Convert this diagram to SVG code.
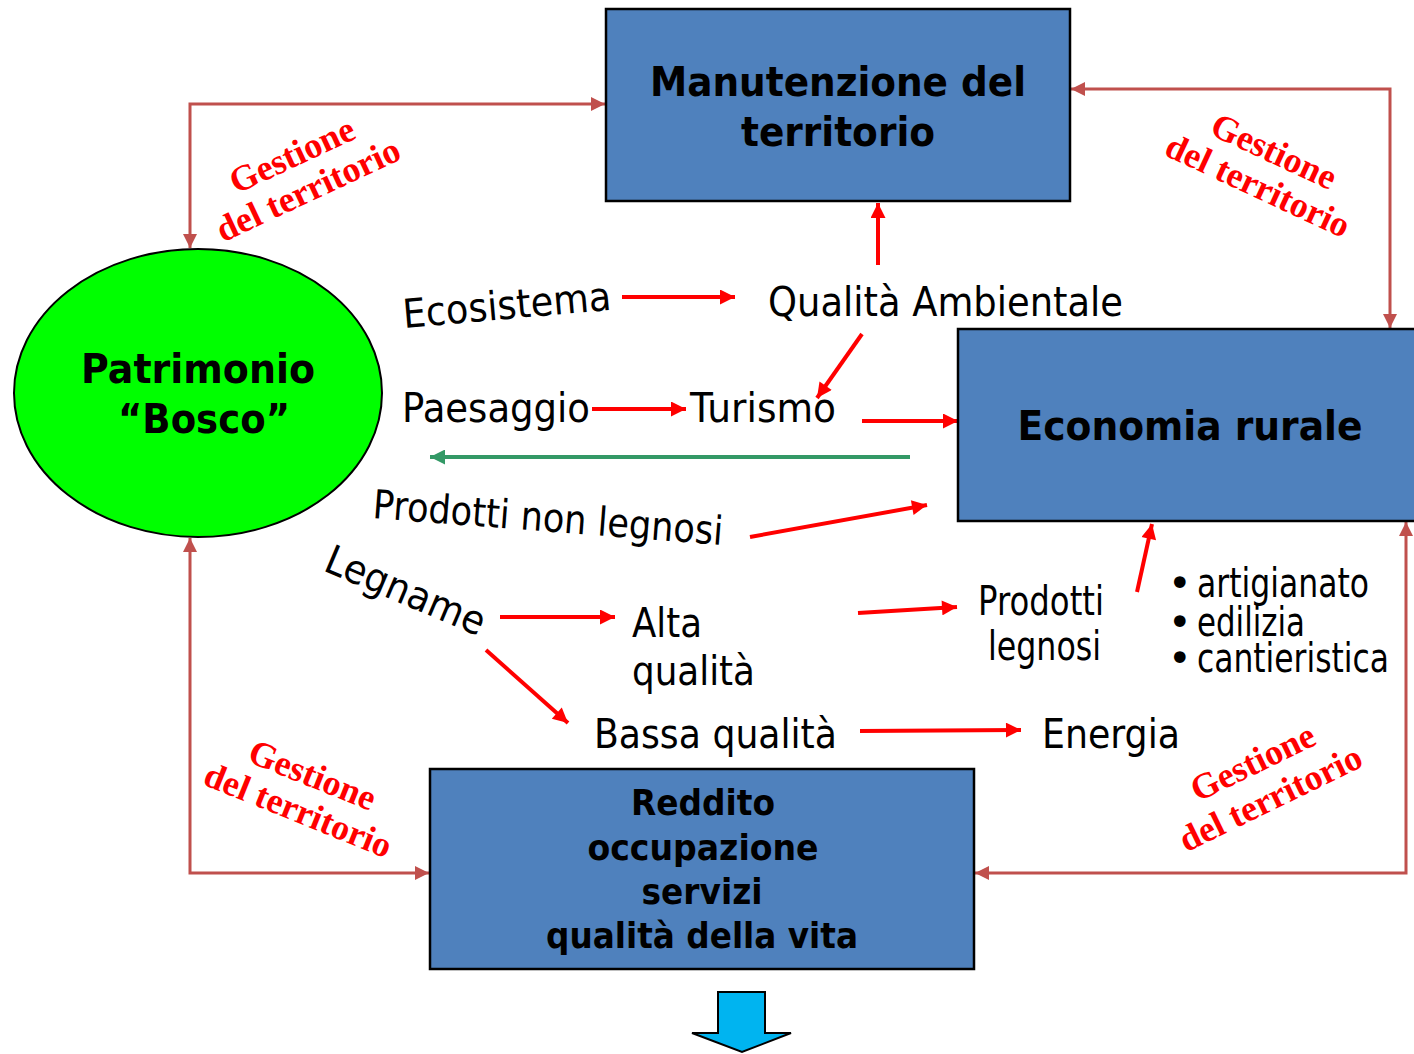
<svg xmlns="http://www.w3.org/2000/svg" width="1414" height="1054" viewBox="0 0 1414 1054">
<style>
.box{fill:#4F81BD;stroke:#000;stroke-width:2.5}
.tb{font-family:"DejaVu Sans","Liberation Sans",sans-serif;font-weight:bold;fill:#000;text-anchor:middle}
.t{font-family:"DejaVu Sans","Liberation Sans",sans-serif;fill:#000;font-size:40px}
.g{font-family:"Liberation Serif","Times New Roman",serif;font-weight:bold;fill:#FF0000;font-size:36px;text-anchor:middle}
.conn{fill:none;stroke:#C0504D;stroke-width:3}
.red{stroke:#FF0000;stroke-width:4;fill:none}
.green{stroke:#339966;stroke-width:4;fill:none}
</style>
<defs>
<marker id="mb" viewBox="0 0 10 10" refX="10" refY="5" markerWidth="18" markerHeight="14" markerUnits="userSpaceOnUse" orient="auto-start-reverse"><path d="M0,0 L10,5 L0,10 z" fill="#C0504D"/></marker>
<marker id="mr" viewBox="0 0 10 10" refX="10" refY="5" markerWidth="20" markerHeight="15" markerUnits="userSpaceOnUse" orient="auto"><path d="M0,0 L10,5 L0,10 z" fill="#FF0000"/></marker>
<marker id="mg" viewBox="0 0 10 10" refX="10" refY="5" markerWidth="20" markerHeight="15" markerUnits="userSpaceOnUse" orient="auto"><path d="M0,0 L10,5 L0,10 z" fill="#339966"/></marker>
</defs>

<g id="connectors">
<path class="conn" d="M190,248 V104 H605" marker-start="url(#mb)" marker-end="url(#mb)"/>
<path class="conn" d="M1071,89 H1390 V328" marker-start="url(#mb)" marker-end="url(#mb)"/>
<path class="conn" d="M190,538 V873 H429" marker-start="url(#mb)" marker-end="url(#mb)"/>
<path class="conn" d="M975,873 H1406 V522" marker-start="url(#mb)" marker-end="url(#mb)"/>
<line class="red" x1="622" y1="297" x2="735" y2="297" marker-end="url(#mr)"/>
<line class="red" x1="878" y1="265" x2="878" y2="203" marker-end="url(#mr)"/>
<line class="red" x1="862" y1="334" x2="817" y2="398" marker-end="url(#mr)"/>
<line class="red" x1="592" y1="409" x2="686" y2="409" marker-end="url(#mr)"/>
<line class="red" x1="862" y1="421" x2="958" y2="421" marker-end="url(#mr)"/>
<line class="green" x1="910" y1="457" x2="430" y2="457" marker-end="url(#mg)"/>
<line class="red" x1="750" y1="537" x2="927" y2="505" marker-end="url(#mr)"/>
<line class="red" x1="500" y1="617" x2="615" y2="617" marker-end="url(#mr)"/>
<line class="red" x1="486" y1="650" x2="568" y2="723" marker-end="url(#mr)"/>
<line class="red" x1="858" y1="613" x2="957" y2="607" marker-end="url(#mr)"/>
<line class="red" x1="1137" y1="592" x2="1152" y2="524" marker-end="url(#mr)"/>
<line class="red" x1="860" y1="731" x2="1021" y2="730" marker-end="url(#mr)"/>
</g>

<g id="manutenzione">
<rect class="box" x="606" y="9" width="464" height="192"/>
<text class="tb" x="838" y="96" font-size="40" textLength="376" lengthAdjust="spacingAndGlyphs">Manutenzione del</text>
<text class="tb" x="838" y="146" font-size="40" textLength="194" lengthAdjust="spacingAndGlyphs">territorio</text>
</g>

<g id="economia">
<rect class="box" x="958" y="329" width="460" height="192"/>
<text class="tb" x="1190" y="440" font-size="40" textLength="345" lengthAdjust="spacingAndGlyphs">Economia rurale</text>
</g>

<g id="patrimonio">
<ellipse cx="198" cy="393" rx="184" ry="144" fill="#00FF00" stroke="#000" stroke-width="2"/>
<text class="tb" x="198" y="383" font-size="40" textLength="234" lengthAdjust="spacingAndGlyphs">Patrimonio</text>
<text class="tb" x="204" y="433" font-size="40" textLength="172" lengthAdjust="spacingAndGlyphs">“Bosco”</text>
</g>

<g id="reddito">
<rect class="box" x="430" y="769" width="544" height="200"/>
<text class="tb" x="703" y="815" font-size="35" textLength="144" lengthAdjust="spacingAndGlyphs">Reddito</text>
<text class="tb" x="703" y="860" font-size="35" textLength="231" lengthAdjust="spacingAndGlyphs">occupazione</text>
<text class="tb" x="702" y="904" font-size="35" textLength="121" lengthAdjust="spacingAndGlyphs">servizi</text>
<text class="tb" x="702" y="948" font-size="35" textLength="312" lengthAdjust="spacingAndGlyphs">qualità della vita</text>
</g>

<g id="labels">
<text class="t" transform="translate(404,328) rotate(-5)" textLength="209" lengthAdjust="spacingAndGlyphs">Ecosistema</text>
<text class="t" x="768" y="316" textLength="355" lengthAdjust="spacingAndGlyphs">Qualità Ambientale</text>
<text class="t" x="402" y="422" textLength="188" lengthAdjust="spacingAndGlyphs">Paesaggio</text>
<text class="t" x="690" y="422" textLength="146" lengthAdjust="spacingAndGlyphs">Turismo</text>
<text class="t" transform="translate(372,518) rotate(4.4)" font-size="38" textLength="351" lengthAdjust="spacingAndGlyphs">Prodotti non legnosi</text>
<text class="t" transform="translate(322,570) rotate(23)" textLength="170" lengthAdjust="spacingAndGlyphs">Legname</text>
<text class="t" x="632" y="637" textLength="70" lengthAdjust="spacingAndGlyphs">Alta</text>
<text class="t" x="632" y="685" textLength="123" lengthAdjust="spacingAndGlyphs">qualità</text>
<text class="t" x="594" y="748" textLength="243" lengthAdjust="spacingAndGlyphs">Bassa qualità</text>
<text class="t" x="1042" y="748" textLength="138" lengthAdjust="spacingAndGlyphs">Energia</text>
<text class="t" x="978" y="615" font-size="36" textLength="126" lengthAdjust="spacingAndGlyphs">Prodotti</text>
<text class="t" x="988" y="660" font-size="36" textLength="113" lengthAdjust="spacingAndGlyphs">legnosi</text>
<text class="t" font-size="35"><tspan x="1168" y="597">• </tspan><tspan x="1197" y="597" textLength="172" lengthAdjust="spacingAndGlyphs">artigianato</tspan><tspan x="1168" y="636">• </tspan><tspan x="1197" y="636" textLength="108" lengthAdjust="spacingAndGlyphs">edilizia</tspan><tspan x="1168" y="672">• </tspan><tspan x="1197" y="672" textLength="192" lengthAdjust="spacingAndGlyphs">cantieristica</tspan></text>
</g>

<g id="gestione-tl" transform="translate(297,166) rotate(-25)">
<text class="g" x="0" y="0">Gestione</text>
<text class="g" x="0" y="38">del territorio</text>
</g>
<g id="gestione-tr" transform="translate(1269,162) rotate(25)">
<text class="g" x="0" y="0">Gestione</text>
<text class="g" x="0" y="38">del territorio</text>
</g>
<g id="gestione-bl" transform="translate(308,786) rotate(22)">
<text class="g" x="0" y="0">Gestione</text>
<text class="g" x="0" y="38">del territorio</text>
</g>
<g id="gestione-br" transform="translate(1258,773) rotate(-26)">
<text class="g" x="0" y="0">Gestione</text>
<text class="g" x="0" y="40">del territorio</text>
</g>

<g id="down-arrow">
<polygon points="718,992 765,992 765,1033 791,1033 742,1052 692,1033 718,1033" fill="#00B4F0" stroke="#000" stroke-width="2"/>
</g>
</svg>
